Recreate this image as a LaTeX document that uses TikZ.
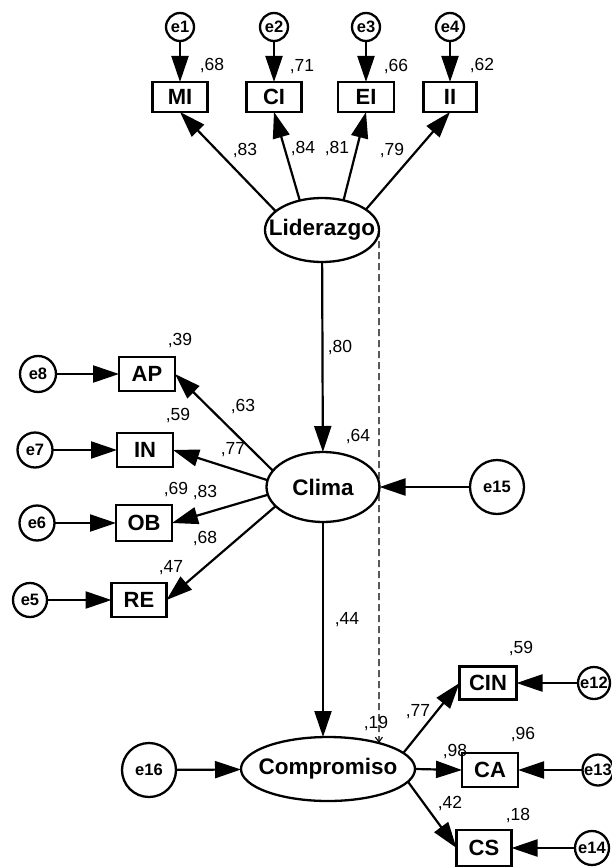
\documentclass[tikz,border=0pt]{standalone}
\usepackage{fontspec}
\setmainfont{Liberation Sans}
\usetikzlibrary{arrows.meta,shapes.geometric}
\newcommand{\ctext}[1]{\makebox[0pt][c]{#1}}
\begin{document}
\begin{tikzpicture}[x=1pt,y=-1pt,
  every node/.style={inner sep=0pt, outer sep=0pt},
  latent/.style={ellipse, draw, line width=2.3pt, font=\fontsize{22.5}{24}\selectfont\bfseries},
  obs/.style={rectangle, draw, line width=2.4pt, minimum width=55pt, minimum height=32pt, font=\fontsize{22}{24}\selectfont\bfseries},
  err/.style={circle, draw, line width=2.3pt, font=\fontsize{16.5}{17}\selectfont\bfseries},
  coef/.style={font=\fontsize{17.5}{18}\selectfont},
  path/.style={line width=2.2pt, -{Triangle[length=26pt,width=17pt]}},
  cov/.style={line width=1.3pt, dash pattern=on 7pt off 4pt, -{Straight Barb[length=5pt,width=7pt,line width=1.1pt]}}]
\useasboundingbox (0,0) rectangle (611,867);

% latent variables
\node[latent, minimum width=114pt, minimum height=64pt] (lid) at (322,230) {\ctext{Liderazgo}};
\node[latent, minimum width=113pt, minimum height=70pt] (cli) at (323,487) {\ctext{Clima}};
\node[latent, minimum width=174pt, minimum height=64pt] (com) at (328,769) {\ctext{Compromiso}};

% indicators of Liderazgo
\node[obs, minimum height=30pt] (mi) at (180,97) {MI};
\node[obs, minimum height=30pt] (ci) at (274,97) {CI};
\node[obs, minimum height=30pt, minimum width=56pt] (ei) at (366,97) {EI};
\node[obs, minimum height=30pt, minimum width=53pt] (ii) at (450,97) {II};
\node[err, minimum size=28pt] (e1) at (180,27) {\ctext{e1}};
\node[err, minimum size=28pt] (e2) at (274,27) {\ctext{e2}};
\node[err, minimum size=28pt] (e3) at (366,27) {\ctext{e3}};
\node[err, minimum size=28pt] (e4) at (450,27) {\ctext{e4}};

% indicators of Clima
\node[obs, minimum width=56pt, minimum height=34pt] (ap) at (147,374) {AP};
\node[obs, minimum width=56pt, minimum height=34pt] (in) at (145,450) {IN};
\node[obs, minimum width=56pt, minimum height=36pt] (ob) at (144,523) {OB};
\node[obs, minimum width=55pt, minimum height=34pt] (re) at (139,600) {RE};
\node[err, minimum size=36pt] (e8) at (38,374) {\ctext{e8}};
\node[err, minimum size=35pt] (e7) at (35,450) {\ctext{e7}};
\node[err, minimum size=35pt] (e6) at (37,523) {\ctext{e6}};
\node[err, minimum size=34pt] (e5) at (30,600) {\ctext{e5}};

% indicators of Compromiso
\node[obs, minimum width=57pt, minimum height=33pt] (cin) at (488,683) {CIN};
\node[obs, minimum width=56pt, minimum height=34pt] (ca) at (490,770) {CA};
\node[obs, minimum width=55pt, minimum height=36pt] (cs) at (484,848) {CS};
\node[err, minimum size=32pt] (e12) at (594,683) {\ctext{e12}};
\node[err, minimum size=31pt] (e13) at (598,770) {\ctext{e13}};
\node[err, minimum size=34pt] (e14) at (592,848) {\ctext{e14}};

% disturbances
\node[err, minimum size=54pt] (e15) at (497,487) {\ctext{e15}};
\node[err, minimum size=54pt] (e16) at (149,770) {\ctext{e16}};

% error terms to indicators
\foreach \e/\v in {e1/mi,e2/ci,e3/ei,e4/ii,e8/ap,e7/in,e6/ob,e5/re,e12/cin,e13/ca,e14/cs}
  \draw[path] (\e) -- (\v);
\draw[path] (e15) -- (cli);
\draw[path] (e16) -- (com);

% loadings
\draw[path] (lid.158) -- (mi.south);
\draw[path] (lid.127) -- (ci.south);
\draw[path] (lid.54) -- (ei.south);
\draw[path] (lid.25) -- (ii.south);
\draw[path] (cli.162) -- (ap.east);
\draw[path] (cli.173) -- (in.east);
\draw[path] (cli.188) -- (ob.east);
\draw[path] (cli.202) -- (re.east);
\draw[path] (com.12) -- (cin.west);
\draw[path] (com.east) -- (ca.west);
\draw[path] (com.-9) -- (cs.west);

% structural paths
\draw[path] (lid) -- (cli);
\draw[path] (cli.south) -- (com.north -| cli.south);
\draw[cov] (lid.east) -- (com.27);

% coefficients
\node[coef] (r68) at (212,66) {,68};
\node[coef] (r71) at (302,67) {,71};
\node[coef] (r66) at (396,67) {,66};
\node[coef] (r62) at (482,66) {,62};
\node[coef] (l83) at (245,151) {,83};
\node[coef] (l84) at (303,149) {,84};
\node[coef] (l81) at (337,149) {,81};
\node[coef] (l79) at (392,151) {,79};
\node[coef] (b80) at (340,348) {,80};
\node[coef] (r64) at (358,437) {,64};
\node[coef] (r39) at (180,341) {,39};
\node[coef] (l63) at (243,407) {,63};
\node[coef] (r59a) at (178,416) {,59};
\node[coef] (l77a) at (233,450) {,77};
\node[coef] (r69) at (176,490) {,69};
\node[coef] (l83b) at (205,493) {,83};
\node[coef] (l68) at (205,539) {,68};
\node[coef] (r47) at (171,568) {,47};
\node[coef] (b44) at (347,620) {,44};
\node[coef] (r59b) at (521,649) {,59};
\node[coef] (l77b) at (418,712) {,77};
\node[coef] (r19) at (376,724) {,19};
\node[coef] (l98) at (455,752) {,98};
\node[coef] (r96) at (523,735) {,96};
\node[coef] (l42) at (450,803) {,42};
\node[coef] (r18) at (518,815) {,18};
\end{tikzpicture}
\end{document}
